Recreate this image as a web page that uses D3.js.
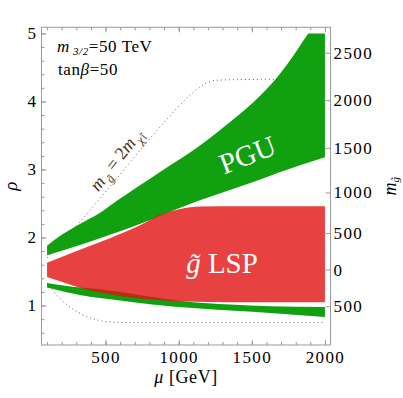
<!DOCTYPE html>
<html>
<head>
<meta charset="utf-8">
<script src="https://cdn.jsdelivr.net/npm/d3@7"></script>
<style>
body { margin: 0; background: #fff; }
text { font-family: "Liberation Serif", "Times New Roman", serif; }
</style>
</head>
<body>
<div id="chart"></div>
<script>
// region boundaries, [mu (GeV), rho]
var pguUpper = [[100,1.88],[200,2.04],[325,2.20],[460,2.36],[585,2.55],[870,2.96],[1150,3.36],[1370,3.73],[1555,4.08],[1690,4.40],[1885,5.0]];
var pguCap = [[1885,5.0],[2000,5.0]]; // flat top where the scan stops at rho = 5
var pguLower = [[100,1.74],[325,1.89],[530,2.04],[735,2.20],[940,2.38],[1150,2.55],[1490,2.80],[1690,2.96],[2000,3.18]];
var lspUpper = [[100,1.63],[325,1.82],[530,1.99],[735,2.18],[870,2.33],[1010,2.42],[1150,2.455],[1420,2.46],[2000,2.46]];
var lspLower = [[100,1.42],[225,1.33],[325,1.26],[460,1.19],[600,1.14],[805,1.09],[1045,1.06],[1350,1.05],[2000,1.05]];
var lowUpper = [[100,1.33],[225,1.29],[325,1.265],[460,1.24],[600,1.20],[805,1.13],[1045,1.06],[1350,1.015],[1625,0.99],[2000,0.98]];
var lowLower = [[100,1.265],[225,1.20],[325,1.155],[460,1.11],[600,1.075],[805,1.02],[1145,0.955],[1625,0.89],[2000,0.83]];
// m_gluino = 2 m_chi1 contours
var dotUpper = [[100,1.70],[290,2.14],[460,2.57],[620,2.98],[720,3.24],[870,3.62],[1010,3.95],[1110,4.15],[1180,4.26],[1250,4.31],[1385,4.32],[2000,4.33]];
var dotLower = [[100,1.33],[140,1.22],[180,1.12],[230,1.02],[290,0.93],[345,0.865],[400,0.815],[460,0.78],[530,0.76],[670,0.75],[2000,0.75]];

var muTicks = [500, 1000, 1500, 2000];
var rhoTicks = [1, 2, 3, 4, 5];
var gluinoTicks = [-500, 0, 500, 1000, 1500, 2000, 2500];
var gluinoTickRho = [0.990, 1.529, 2.068, 2.662, 3.318, 4.019, 4.715];

var width = 403, height = 398;
var plotL = 41.5, plotR = 330.5, plotT = 27.3, plotB = 345;

var svg = d3.select("#chart").append("svg")
  .attr("width", width)
  .attr("height", height);

var x = d3.scaleLinear().domain([62, 2038]).range([plotL, plotR]);
var y = d3.scaleLinear().domain([0.42, 5.09]).range([plotB, plotT]);
// right axis is not linear in rho
var yG = d3.scaleLinear().domain(gluinoTicks).range(gluinoTickRho.map(y));

var edge = d3.line()
  .x(function(d) { return x(d[0]); })
  .y(function(d) { return y(d[1]); })
  .curve(d3.curveMonotoneX);
var straight = d3.line()
  .x(function(d) { return x(d[0]); })
  .y(function(d) { return y(d[1]); });

function join(p) { return p.replace(/^M/, "L"); }

function band(upper, lower, cap) {
  var d = edge(upper);
  if (cap) d += join(straight(cap));
  return d + join(edge(lower.slice().reverse())) + "Z";
}

var plot = svg.append("g");

plot.append("path").attr("d", band(pguUpper, pguLower, pguCap)).attr("fill", "#10a010");
plot.append("path").attr("d", band(lowUpper, lowLower)).attr("fill", "#10a010");
// red drawn see-through so overlaps come out darker
plot.append("path").attr("d", band(lspUpper, lspLower))
  .attr("fill", "#e21212").attr("fill-opacity", 0.8);

[dotUpper, dotLower].forEach(function(pts) {
  plot.append("path")
    .attr("d", edge(pts))
    .attr("fill", "none")
    .attr("stroke", "#6b5a48")
    .attr("stroke-width", 1)
    .attr("stroke-dasharray", "1,3");
});

// frame
svg.append("rect")
  .attr("x", plotL).attr("y", plotT)
  .attr("width", plotR - plotL).attr("height", plotB - plotT)
  .attr("fill", "none").attr("stroke", "#999");

function styleAxis(g) {
  g.select(".domain").remove();
  g.selectAll("line").attr("stroke", "#999");
  g.selectAll("text")
    .attr("fill", "#000")
    .style("font-size", "17px")
    .style("letter-spacing", "1.4px")
    .style("font-family", "'Liberation Serif', serif");
}

var minorMu = d3.range(100, 2001, 100);
var minorRho = d3.range(0.6, 5.01, 0.2);

svg.append("g").attr("transform", "translate(0," + plotB + ")")
  .call(d3.axisBottom(x).tickValues(minorMu).tickSize(-3).tickFormat(""))
  .call(styleAxis);
svg.append("g").attr("transform", "translate(0," + plotB + ")")
  .call(d3.axisBottom(x).tickValues(muTicks).tickSize(-5).tickPadding(6).tickFormat(d3.format("d")))
  .call(styleAxis);
svg.append("g").attr("transform", "translate(0," + plotT + ")")
  .call(d3.axisTop(x).tickValues(minorMu).tickSize(-3).tickFormat(""))
  .call(styleAxis);
svg.append("g").attr("transform", "translate(0," + plotT + ")")
  .call(d3.axisTop(x).tickValues(muTicks).tickSize(-5).tickFormat(""))
  .call(styleAxis);

svg.append("g").attr("transform", "translate(" + plotL + ",0)")
  .call(d3.axisLeft(y).tickValues(minorRho).tickSize(-3).tickFormat(""))
  .call(styleAxis);
svg.append("g").attr("transform", "translate(" + plotL + ",0)")
  .call(d3.axisLeft(y).tickValues(rhoTicks).tickSize(-5).tickPadding(4).tickFormat(d3.format("d")))
  .call(styleAxis);

svg.append("g").attr("transform", "translate(" + plotR + ",0)")
  .call(d3.axisRight(yG).tickValues(gluinoTicks).tickSize(-5).tickPadding(3)
    .tickFormat(function(d) { return Math.abs(d); }))
  .call(styleAxis);

// axis titles
var xt = svg.append("text")
  .attr("x", (plotL + plotR) / 2).attr("y", 383)
  .attr("text-anchor", "middle")
  .style("font-size", "18px")
  .style("letter-spacing", "0.6px");
xt.append("tspan").style("font-style", "italic").text("μ");
xt.append("tspan").text(" [GeV]");

svg.append("text")
  .attr("transform", "translate(17," + ((plotT + plotB) / 2) + ") rotate(-90)")
  .attr("text-anchor", "middle")
  .style("font-size", "19px").style("font-style", "italic")
  .text("ρ");

var yt = svg.append("text")
  .attr("transform", "translate(396," + ((plotT + plotB) / 2) + ") rotate(-90)")
  .attr("text-anchor", "middle")
  .style("font-size", "18px");
yt.append("tspan").style("font-style", "italic").text("m");
yt.append("tspan").attr("dy", 3).style("font-size", "11px").style("font-style", "italic").text("g\u0303");

// parameter box
var t1 = svg.append("text").attr("x", 57).attr("y", 52)
  .style("font-size", "17px").style("letter-spacing", "0.6px");
t1.append("tspan").style("font-style", "italic").text("m");
t1.append("tspan").attr("dx", 3).attr("dy", 3).style("font-size", "11px").style("font-style", "italic").text("3/2");
t1.append("tspan").attr("dy", -3).text("=50 TeV");

var t2 = svg.append("text").attr("x", 58).attr("y", 75)
  .style("font-size", "17px").style("letter-spacing", "0.6px");
t2.append("tspan").text("tan");
t2.append("tspan").style("font-style", "italic").text("β");
t2.append("tspan").text("=50");

// region labels
svg.append("text")
  .attr("transform", "translate(251,164) rotate(-21)")
  .attr("text-anchor", "middle")
  .attr("fill", "#fff")
  .style("font-size", "29px")
  .text("PGU");

var lsp = svg.append("text")
  .attr("x", 222).attr("y", 273)
  .attr("text-anchor", "middle")
  .attr("fill", "#fff")
  .style("font-size", "29px");
lsp.append("tspan").style("font-style", "italic").text("g\u0303");
lsp.append("tspan").text(" LSP");

// contour label
var cl = svg.append("text")
  .attr("transform", "translate(121,163) rotate(-52)")
  .attr("text-anchor", "middle")
  .attr("fill", "#4a2e10")
  .style("font-size", "18px");
cl.append("tspan").style("font-style", "italic").text("m");
cl.append("tspan").attr("dx", 2).attr("dy", 5).style("font-size", "12px").style("font-style", "italic").text("g\u0303");
cl.append("tspan").attr("dy", -5).text(" = 2");
cl.append("tspan").style("font-style", "italic").text("m");
cl.append("tspan").attr("dx", 2).attr("dy", 5).style("font-size", "12px").style("font-style", "italic").text("\u03c7\u0303");
cl.append("tspan").style("font-size", "9px").text("1");
</script>
</body>
</html>
